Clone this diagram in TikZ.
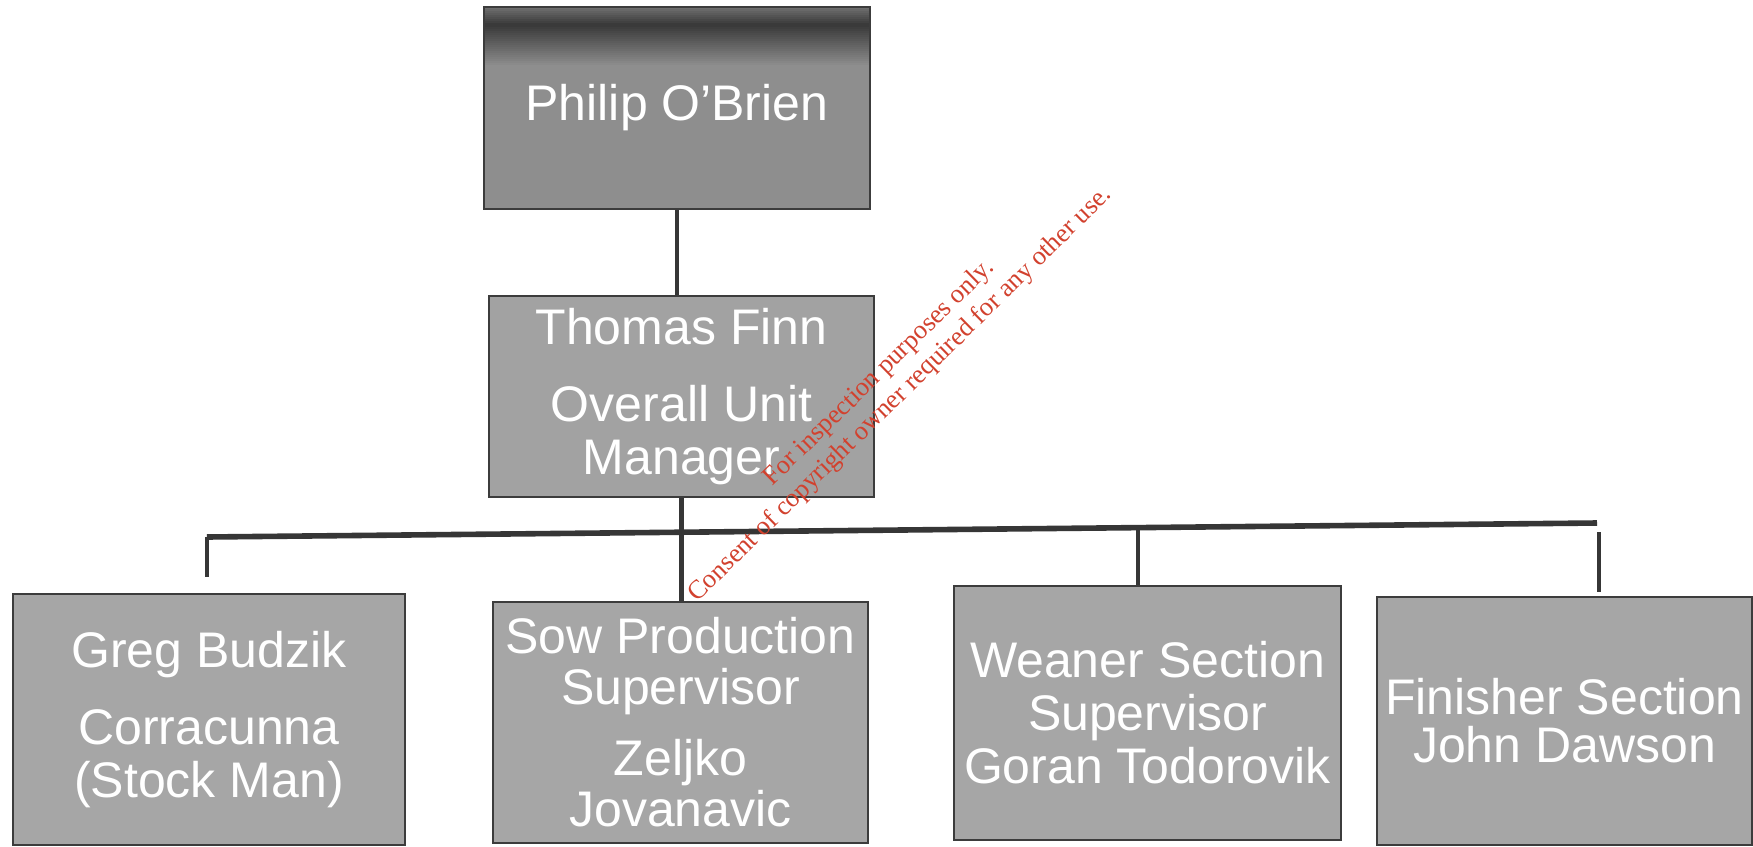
\documentclass[tikz,border=0pt]{standalone}
\usepackage{fontspec}
\setmainfont{Liberation Sans}
\newfontfamily\wmfont{Liberation Serif}
\definecolor{boxline}{HTML}{3C3C3C}
\definecolor{boxfill}{HTML}{A6A6A6}
\definecolor{topfill}{HTML}{8E8E8E}
\definecolor{topdark}{HTML}{3A3A3A}
\definecolor{topedge}{HTML}{6E6E6E}
\definecolor{midfill}{HTML}{A2A2A2}
\definecolor{linkcol}{HTML}{363636}
\definecolor{wmred}{HTML}{D2412E}
\tikzset{
  orgbox/.style={draw=boxline, line width=1.2pt, fill=boxfill, text=white,
    font=\fontsize{25}{26.5}\selectfont, align=center, inner sep=0pt},
  link/.style={draw=linkcol, line width=2.2pt},
  barline/.style={draw=linkcol, line width=2.8pt},
}
\begin{document}
\begin{tikzpicture}[x=0.5pt,y=-0.5pt]
\useasboundingbox (0,0) rectangle (1753,847);
\fill[white] (0,0) rectangle (1753,847);

\node[orgbox, fill=topfill, minimum width=193pt, minimum height=101pt,
  path picture={
    \foreach \i [evaluate=\i as \p using {100*\i/8}] in {0,...,8}
      \fill[topdark!\p!topedge]
        ([yshift=-\i pt]path picture bounding box.north west) rectangle
        ([yshift=-\i pt-1.3pt]path picture bounding box.north east);
    \foreach \i [evaluate=\i as \p using {100-100*\i/20}] in {0,...,20}
      \fill[topdark!\p!topfill]
        ([yshift=-9pt-\i pt]path picture bounding box.north west) rectangle
        ([yshift=-10.3pt-\i pt]path picture bounding box.north east);
  }]
  (philip) at (677,108) {Philip O'Brien};

\node[orgbox, fill=midfill, minimum width=192.5pt, minimum height=100.5pt]
  (thomas) at (681.5,396.5) {Thomas Finn\\[12pt]Overall Unit\\Manager};

\node[orgbox, minimum width=196pt, minimum height=125.5pt]
  (greg) at (209,719.5) {Greg Budzik\\[12pt]Corracunna\\(Stock Man)};

\node[orgbox, minimum width=187.5pt, minimum height=120.5pt]
  (sow) at (680.5,722.5) {Sow Production\\[-1pt]Supervisor\\[9pt]Zeljko\\[-1pt]Jovanavic};

\node[orgbox, minimum width=193.5pt, minimum height=127pt]
  (weaner) at (1147.5,713) {Weaner Section\\Supervisor\\Goran Todorovik};

\node[orgbox, minimum width=187.5pt, minimum height=124pt]
  (finisher) at (1564.5,721) {Finisher Section\\[-2.5pt]John Dawson};

% connectors
\coordinate (barL) at (207,537);
\coordinate (barR) at (1597,523);
\coordinate (wj) at (1138,527.6);
\coordinate (fj) at (1599,532);

\draw[link] (philip.south) -- (philip.south |- thomas.north);
\draw[link] (thomas.south) -- (thomas.south |- sow.north);
\draw[barline] (barL) -- (barR);
\draw[link, shorten >=8pt] (barL) -- (barL |- greg.north);
\draw[link] (wj) -- (wj |- weaner.north);
\draw[link, shorten >=2pt] (fj) -- (fj |- finisher.north);

% watermark
\node[rotate=44.4, text=wmred, align=center, inner sep=0pt,
  font=\wmfont\fontsize{13.2}{15}\selectfont] (wm) at (890,384)
  {For inspection purposes only.\\Consent of copyright owner required for any other use.};
\end{tikzpicture}
\end{document}
